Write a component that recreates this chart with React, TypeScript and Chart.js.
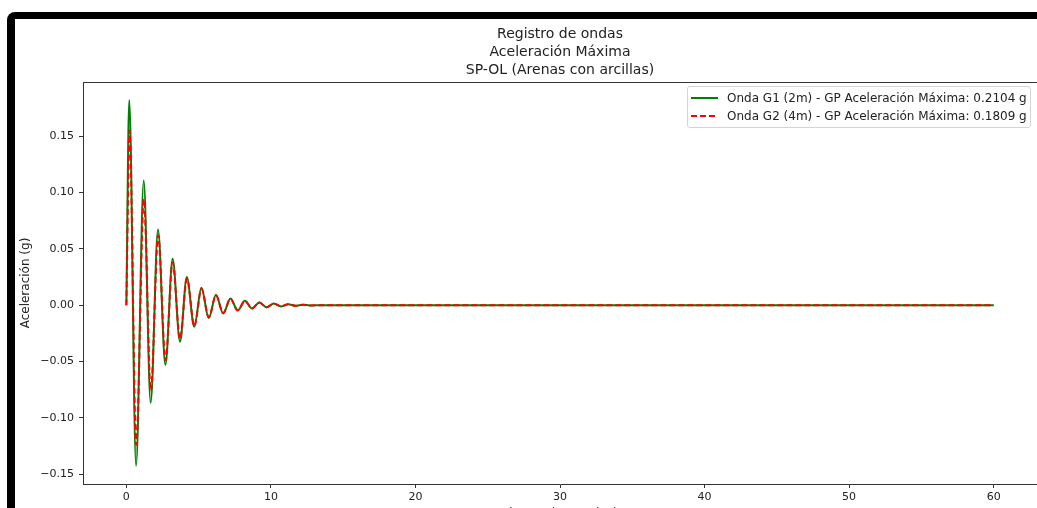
import React, { useEffect, useRef } from "react";
import { Chart, registerables } from "chart.js";

Chart.register(...registerables);

// ---- Data ----
const titleLines = ["Registro de ondas", "Aceleración Máxima", "SP-OL (Arenas con arcillas)"];
const legendLabels = [
  "Onda G1 (2m) - GP Aceleración Máxima: 0.2104 g",
  "Onda G2 (4m) - GP Aceleración Máxima: 0.1809 g",
];
const xAxisTitle = "Tiempo (segundos)";
const yAxisTitle = "Aceleración (g)";

const xTicks = [0, 10, 20, 30, 40, 50, 60];
const yTicks = [-0.15, -0.1, -0.05, 0, 0.05, 0.1, 0.15];

// Onda G1 (2m): turning points of the record (s, g)
const timeG1 = [0, 0.2, 0.67, 1.2, 1.68, 2.19, 2.7, 3.2, 3.71, 4.18, 4.7, 5.19, 5.7, 6.2, 6.7, 7.2, 7.7, 8.2, 8.7, 9.2, 9.7, 10.2, 10.7, 11.2, 11.7, 12.2, 12.7, 13.5, 60];
const accG1 = [0, 0.182, -0.1425, 0.1106, -0.0867, 0.0672, -0.053, 0.0412, -0.0325, 0.0249, -0.0192, 0.0155, -0.0115, 0.0092, -0.0074, 0.006, -0.0048, 0.0038, -0.003, 0.0024, -0.0019, 0.0014, -0.0011, 0.0008, -0.0006, 0.0004, -0.0003, 0, 0];

// Onda G2 (4m): turning points of the record (s, g)
const timeG2 = [0, 0.22, 0.68, 1.21, 1.69, 2.2, 2.71, 3.2, 3.71, 4.19, 4.7, 5.2, 5.7, 6.2, 6.7, 7.2, 7.7, 8.2, 8.7, 9.2, 9.7, 10.2, 10.7, 11.2, 11.7, 12.2, 12.7, 13.5, 60];
const accG2 = [0, 0.155, -0.124, 0.094, -0.076, 0.062, -0.049, 0.038, -0.03, 0.0235, -0.0185, 0.0145, -0.0107, 0.0086, -0.007, 0.0057, -0.0046, 0.0036, -0.0029, 0.0023, -0.0018, 0.0013, -0.001, 0.0008, -0.0006, 0.0004, -0.0003, 0, 0];

const FONT = "'DejaVu Sans', 'Noto Sans', sans-serif";
const TEXT = "#222222";
const AXIS = "#333333";

const fmtY = (v: number) => v.toFixed(2).replace("-", "\u2212");

const framePlugin = {
  id: "topSpine",
  afterDraw(chart: any) {
    const { ctx, chartArea } = chart;
    const { left, top, right } = chartArea;
    ctx.save();
    ctx.strokeStyle = AXIS;
    ctx.lineWidth = 1;
    ctx.beginPath();
    ctx.moveTo(left, Math.round(top) + 0.5);
    ctx.lineTo(right, Math.round(top) + 0.5);
    ctx.stroke();
    ctx.restore();
  },
};

function DashSwatch({ color, dashed }: { color: string; dashed: boolean }) {
  return (
    <svg width={27} height={6} style={{ position: "absolute", left: 0, top: -3 }}>
      <line
        x1={0}
        y1={3}
        x2={27}
        y2={3}
        stroke={color}
        strokeWidth={2}
        strokeDasharray={dashed ? "6 3" : undefined}
      />
    </svg>
  );
}

export default function App() {
  const canvasRef = useRef<HTMLCanvasElement | null>(null);

  useEffect(() => {
    if (!canvasRef.current) return;
    const chart = new Chart(canvasRef.current, {
      type: "line",
      data: {
        datasets: [
          {
            label: legendLabels[1],
            data: timeG2.map((t, i) => ({ x: t, y: accG2[i] })),
            borderColor: "#ff0000",
            backgroundColor: "#ff0000",
            borderWidth: 2,
            borderDash: [6, 3],
            pointRadius: 0,
            cubicInterpolationMode: "monotone",
            fill: false,
            order: 0,
          },
          {
            label: legendLabels[0],
            data: timeG1.map((t, i) => ({ x: t, y: accG1[i] })),
            borderColor: "#008000",
            backgroundColor: "#008000",
            borderWidth: 2,
            pointRadius: 0,
            cubicInterpolationMode: "monotone",
            fill: false,
            order: 1,
          },
        ],
      },
      options: {
        animation: false,
        responsive: false,
        maintainAspectRatio: false,
        events: [],
        layout: { padding: { left: 16, top: 0, right: 0, bottom: 0 } },
        plugins: {
          legend: { display: false },
          tooltip: { enabled: false },
          title: {
            display: true,
            text: titleLines,
            fullSize: false,
            color: TEXT,
            font: { family: FONT, size: 14, weight: "normal", lineHeight: 18 / 14 },
            padding: { top: 25, bottom: 3 },
          },
        },
        scales: {
          x: {
            type: "linear",
            min: -3,
            max: 63,
            afterBuildTicks: (s: any) => {
              s.ticks = xTicks.map((v) => ({ value: v }));
            },
            afterFit: (s: any) => {
              s.height = 46;
            },
            ticks: {
              autoSkip: false,
              maxRotation: 0,
              padding: 3,
              color: TEXT,
              font: { family: FONT, size: 11 },
              callback: (v: any) => String(v),
            },
            grid: { drawOnChartArea: false, drawTicks: true, tickLength: 4, tickColor: AXIS },
            border: { display: true, color: AXIS, width: 1 },
            title: {
              display: true,
              text: xAxisTitle,
              color: TEXT,
              font: { family: FONT, size: 12, lineHeight: 1.2 },
              padding: { top: 0, bottom: 9 },
            },
          },
          y: {
            type: "linear",
            min: -0.1587,
            max: 0.198,
            afterBuildTicks: (s: any) => {
              s.ticks = yTicks.map((v) => ({ value: v }));
            },
            afterFit: (s: any) => {
              s.width = 67;
            },
            ticks: {
              autoSkip: false,
              padding: 5,
              color: TEXT,
              font: { family: FONT, size: 11 },
              callback: (v: any) => fmtY(Number(v)),
            },
            grid: { drawOnChartArea: false, drawTicks: true, tickLength: 4, tickColor: AXIS },
            border: { display: true, color: AXIS, width: 1 },
            title: {
              display: true,
              text: yAxisTitle,
              color: TEXT,
              font: { family: FONT, size: 12, lineHeight: 1.2 },
              padding: { top: 3, bottom: 0 },
            },
          },
        },
      } as any,
      plugins: [framePlugin],
    });
    return () => chart.destroy();
  }, []);

  const legendRowStyle = (top: number): React.CSSProperties => ({
    position: "absolute",
    left: 3,
    top,
    height: 14,
    width: 340,
  });

  return (
    <div
      style={{
        position: "fixed",
        left: 0,
        top: 0,
        width: 1037,
        height: 508,
        overflow: "hidden",
        background: "#ffffff",
      }}
    >
      <canvas
        ref={canvasRef}
        width={1037}
        height={530}
        style={{ position: "absolute", left: 0, top: 0, width: 1037, height: 530 }}
      />
      {/* legend */}
      <div
        style={{
          position: "absolute",
          left: 687,
          top: 86,
          width: 344,
          height: 42,
          boxSizing: "border-box",
          border: "1px solid #d5d5d5",
          borderRadius: 3,
          background: "rgba(255,255,255,0.8)",
          fontFamily: FONT,
          fontSize: 12,
          color: TEXT,
        }}
      >
        {[0, 1].map((i) => (
          <div key={i} style={legendRowStyle(i === 0 ? 4 : 22)}>
            <div style={{ position: "absolute", left: 0, top: 7, width: 27 }}>
              <DashSwatch color={i === 0 ? "#008000" : "#ff0000"} dashed={i === 1} />
            </div>
            <div
              style={{
                position: "absolute",
                left: 36,
                top: 0,
                lineHeight: "14px",
                whiteSpace: "nowrap",
              }}
            >
              {legendLabels[i]}
            </div>
          </div>
        ))}
      </div>
      {/* dark frame of the screenshot */}
      <div
        style={{
          position: "absolute",
          left: 7,
          top: 12,
          width: 1060,
          height: 520,
          boxSizing: "border-box",
          borderLeft: "8px solid #000",
          borderTop: "7px solid #000",
          borderTopLeftRadius: 8,
        }}
      />
    </div>
  );
}
